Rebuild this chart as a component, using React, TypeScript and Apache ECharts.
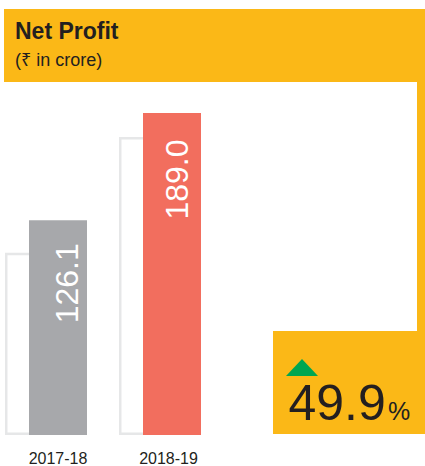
import React, { useEffect, useRef } from "react";
import * as echarts from "echarts";

const categories = ["2017-18", "2018-19"];
const profitValues = [126.1, 189.0];
const shadowValues = [107, 175];
const barColors = ["#A7A8AB", "#F26E5E"];
const growthText = "49.9";
const titleText = "Net Profit";
const unitText = "(₹ in crore)";

const YELLOW = "#FBB817";
const DARK = "#231F20";
const FONT = "'Liberation Sans', Arial, 'Noto Sans', sans-serif";

const labelTweaks = [
  { offset: [0, 9], distance: 23 },
  { offset: [0, 5], distance: 26.5 },
];

export default function App() {
  const ref = useRef<HTMLDivElement>(null);
  useEffect(() => {
    if (!ref.current) return;
    const chart = echarts.init(ref.current, null, { renderer: "svg" });
    chart.setOption({
      animation: false,
      backgroundColor: "#ffffff",
      grid: { left: 1, width: 228, top: 94.3, bottom: 31, containLabel: false },
      xAxis: {
        type: "category",
        data: categories.map((c, i) =>
          i === 1 ? { value: c, textStyle: { padding: [0, 7, 0, 0] } } : c
        ),
        axisLine: { show: false },
        axisTick: { show: false },
        axisLabel: {
          color: DARK,
          fontSize: 16,
          fontFamily: FONT,
          margin: 15,
        },
      },
      yAxis: { type: "value", min: 0, max: 200, show: false, splitLine: { show: false } },
      series: [
        {
          type: "bar",
          data: shadowValues,
          barWidth: 58,
          barGap: "-58.6%",
          itemStyle: { color: "rgba(255,255,255,0)", borderColor: "#E6E7E8", borderWidth: 2.5 },
          silent: true,
        },
        {
          type: "bar",
          data: profitValues.map((v, i) => ({
            value: v,
            itemStyle: { color: barColors[i] },
            label: labelTweaks[i],
          })),
          barWidth: 58,
          barGap: "-58.6%",
          label: {
            show: true,
            position: "insideTop",
            rotate: 90,
            align: "right",
            verticalAlign: "middle",
            distance: 25,
            color: "#ffffff",
            fontSize: 32,
            fontFamily: FONT,
            formatter: (p: any) => Number(p.value).toFixed(1),
          },
        },
        {
          // invisible spacer so the coloured bars sit centred on their categories
          type: "bar",
          data: [0, 0],
          barWidth: 58,
          barGap: "-58.6%",
          itemStyle: { color: "rgba(0,0,0,0)" },
          silent: true,
        },
      ],
      graphic: [
        { type: "rect", shape: { x: 4, y: 9, width: 421, height: 73 }, style: { fill: YELLOW } },
        { type: "rect", shape: { x: 417, y: 81, width: 8, height: 251 }, style: { fill: YELLOW } },
        { type: "rect", shape: { x: 273, y: 331, width: 152, height: 103 }, style: { fill: YELLOW } },
        {
          type: "text",
          style: { text: titleText, x: 15, y: 31, font: `bold 23px ${FONT}`, fill: DARK, verticalAlign: "middle" },
        },
        {
          type: "text",
          style: { text: unitText, x: 15, y: 60, font: `18px ${FONT}`, fill: DARK, verticalAlign: "middle" },
        },
        {
          type: "polygon",
          shape: { points: [[286, 376], [318, 376], [302, 359]] },
          style: { fill: "#00A651" },
        },
        {
          type: "text",
          style: { text: growthText, x: 288.5, y: 402.5, font: `50px ${FONT}`, fill: DARK, verticalAlign: "middle" },
        },
        {
          type: "text",
          style: { text: "%", x: 388, y: 411, font: `25px ${FONT}`, fill: DARK, verticalAlign: "middle" },
        },
      ],
    });
    return () => chart.dispose();
  }, []);
  return (
    <div
      ref={ref}
      style={{ position: "fixed", left: 0, top: 0, width: 425, height: 466 }}
    />
  );
}
